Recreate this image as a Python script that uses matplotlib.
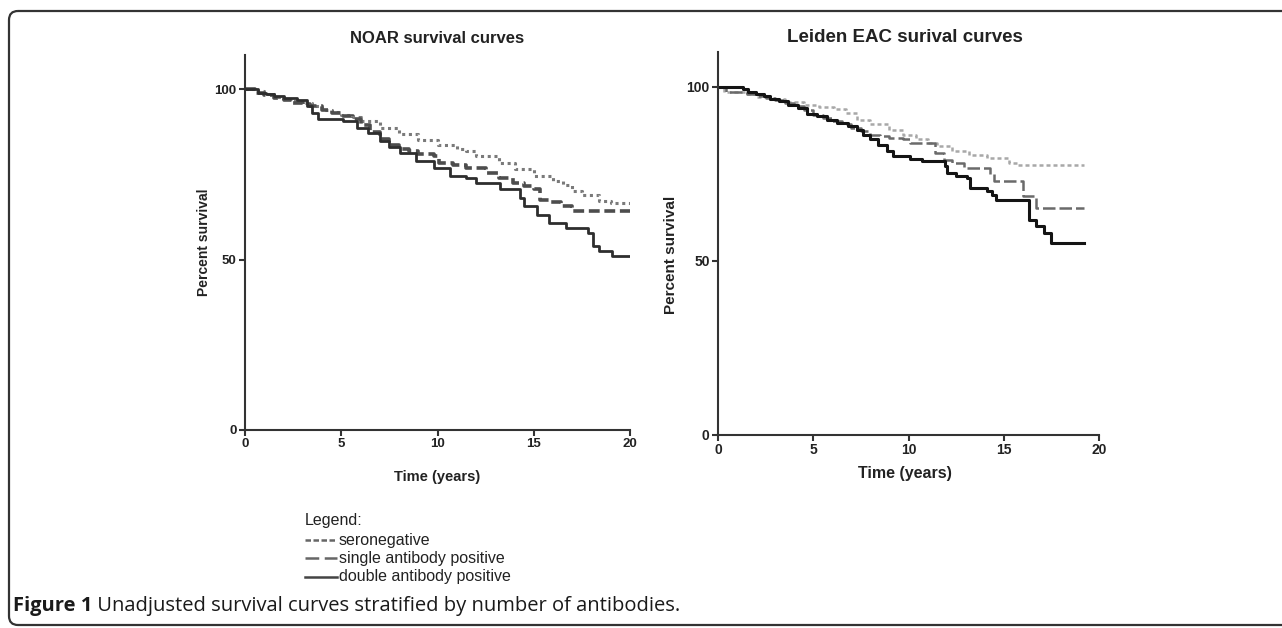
import numpy as np
import matplotlib
matplotlib.use("Agg")
import matplotlib.pyplot as plt
from matplotlib.patches import FancyBboxPatch

plt.rcParams['font.family'] = ['Liberation Sans', 'DejaVu Sans']

# NOAR panel (years, percent survival)
noar_sero_t = [0, 0.5, 1, 1.5, 2, 2.5, 3, 3.5, 4, 4.5, 5, 5.6, 6, 7, 8, 9, 10, 11, 11.5, 12,
               13.2, 14, 15, 16, 16.5, 17, 17.5, 18.4, 19, 20]
noar_sero_s = [100, 99.3, 98.5, 97.8, 97.2, 96.5, 95.8, 95, 94, 93.2, 92.5, 91.7, 90.5, 88.5, 86.8,
               85, 83.5, 82.5, 81.9, 80.5, 78.4, 76.5, 74.5, 73, 72, 70.1, 69, 67.2, 66.5, 65.7]
noar_single_t = [0, 0.5, 1, 1.5, 2, 2.5, 3, 3.4, 4, 4.5, 5, 5.6, 6, 6.5, 7, 7.5, 8, 8.5, 9, 9.8,
                 10.1, 10.8, 11.5, 12.5, 13.2, 13.9, 14.5, 15, 15.3, 15.8, 16.4, 17, 20]
noar_single_s = [100, 99, 98.3, 97.5, 96.8, 96, 95.5, 95, 94, 93, 92.2, 91.2, 89.5, 87.5, 85.3, 83.5,
                 82.4, 81.8, 81, 80.4, 78.4, 77.8, 77, 75.5, 74, 72.5, 71.5, 70.6, 67.6, 66.8, 65.7,
                 64.2, 64.2]
noar_double_t = [0, 0.7, 1.1, 1.5, 2.0, 2.7, 3.2, 3.5, 3.8, 5.1, 5.8, 6.4, 7.0, 7.5, 8.05, 8.9, 9.8,
                 10.65, 11.5, 12.0, 13.25, 14.3, 14.5, 15.15, 15.8, 16.7, 17.8, 18.1, 18.4, 19.05, 20]
noar_double_s = [100, 99, 98.5, 98, 97.5, 96.8, 95, 93, 91.2, 90.7, 88.7, 87, 84.8, 83, 81.4, 78.9,
                 77, 74.5, 74, 72.5, 70.6, 68.1, 65.7, 63.2, 60.8, 59.3, 57.8, 53.9, 52.5, 51, 51]

# Leiden EAC panel
eac_sero_t = [0, 0.3, 1.5, 2.0, 2.7, 3.5, 4.5, 5.3, 6.1, 6.7, 7.3, 8.0, 9.0, 9.7, 10.4, 11.0, 11.5,
              12.3, 13.2, 14.1, 15.3, 15.7, 19.2]
eac_sero_s = [100, 98.5, 97.8, 97.2, 96.5, 95.6, 94.9, 94.2, 93.5, 92.4, 90.6, 89.3, 87.5, 86.3,
              84.9, 83.8, 82.9, 81.7, 80.5, 79.6, 78.1, 77.5, 77.5]
eac_single_t = [0, 0.4, 1.5, 2.0, 2.5, 3.0, 3.5, 4.0, 4.5, 5.0, 5.5, 6.0, 6.5, 7.0, 7.5, 8.0, 8.5,
                9.0, 9.7, 10.1, 11.4, 11.84, 12.3, 12.9, 14.3, 14.5, 16.0, 16.7, 19.2]
eac_single_s = [100, 98.5, 98.0, 97.5, 96.9, 96.1, 95.3, 94.4, 93.2, 92.0, 91.0, 90.2, 89.3, 88.2,
                87.3, 86.3, 85.8, 85.3, 84.9, 83.8, 81.0, 79.1, 78.0, 76.7, 75.0, 72.9, 68.6, 65.2,
                65.2]
eac_double_t = [0, 1.3, 1.6, 2.0, 2.4, 2.74, 3.2, 3.7, 4.2, 4.67, 5.2, 5.7, 6.24, 6.8, 7.29, 7.6,
                7.99, 8.4, 8.86, 9.21, 10.09, 10.7, 11.9, 12.0, 12.5, 13.05, 13.24, 14.1, 14.4, 14.6,
                16.3, 16.7, 17.1, 17.5, 19.2]
eac_double_s = [100, 99.4, 98.6, 97.9, 97.3, 96.6, 95.9, 94.9, 93.9, 92.3, 91.5, 90.6, 89.6, 88.7,
                87.7, 86.3, 84.9, 83.3, 81.5, 80.1, 79.4, 78.6, 77.2, 75.3, 74.5, 73.8, 70.9, 70.0,
                68.8, 67.6, 61.8, 59.9, 58.0, 55.1, 55.1]

legend_labels = ['seronegative', 'single antibody positive', 'double antibody positive']
x_ticks = [0, 5, 10, 15, 20]
y_ticks = [0, 50, 100]

fig = plt.figure(figsize=(12.82, 6.28), dpi=100)

# background axes in pixel units for the frame, legend and caption
bg = fig.add_axes([0, 0, 1, 1])
bg.set_xlim(0, 1282)
bg.set_ylim(628, 0)
bg.axis('off')
frame = FancyBboxPatch((9, 11), 1320, 614, boxstyle="round,pad=0,rounding_size=9",
                       fc='none', ec='#333333', lw=1.6)
bg.add_patch(frame)


def style_axes(ax, fs):
    ax.set_xlim(0, 20)
    ax.set_ylim(0, 110)
    ax.set_xticks(x_ticks)
    ax.set_yticks(y_ticks)
    for s in ['top', 'right']:
        ax.spines[s].set_visible(False)
    for s in ['left', 'bottom']:
        ax.spines[s].set_linewidth(1.5)
        ax.spines[s].set_color('#333333')
    ax.tick_params(direction='out', length=4, width=1.5, color='#333333',
                   labelsize=fs, labelcolor='#222222', pad=2)
    for lab in ax.get_xticklabels() + ax.get_yticklabels():
        lab.set_fontweight('bold')
    ax.patch.set_alpha(0)


ax1 = fig.add_axes([245 / 1282, 1 - 430 / 628, 385 / 1282, 375 / 628])
ax1.step(noar_sero_t, noar_sero_s, where='post', color='#7a7a7a', lw=2.2, dashes=(1.0, 1.2))
ax1.step(noar_single_t, noar_single_s, where='post', color='#4d4d4d', lw=2.6, dashes=(3.0, 1.3))
ax1.step(noar_double_t, noar_double_s, where='post', color='#2e2e2e', lw=2.0)
style_axes(ax1, 9.5)
ax1.text(0.5, 1.043, 'NOAR survival curves', transform=ax1.transAxes, ha='center', va='center',
         fontsize=12, fontweight='bold', color='#222222')
ax1.set_ylabel('Percent survival', fontsize=10, fontweight='bold', color='#222222')
ax1.yaxis.set_label_coords(-0.088, 0.5)
ax1.set_xlabel('Time (years)', fontsize=10.5, fontweight='bold', color='#222222')
ax1.xaxis.set_label_coords(0.5, -0.107)

ax2 = fig.add_axes([718 / 1282, 1 - 435 / 628, 381 / 1282, 383 / 628])
ax2.step(eac_sero_t, eac_sero_s, where='post', color='#a8a8a8', lw=1.8, dashes=(1.6, 1.2))
ax2.step(eac_single_t, eac_single_s, where='post', color='#6a6a6a', lw=1.8, dashes=(5.0, 1.6))
ax2.step(eac_double_t, eac_double_s, where='post', color='#141414', lw=2.2)
style_axes(ax2, 10)
ax2.text(0.49, 1.039, 'Leiden EAC surival curves', transform=ax2.transAxes, ha='center',
         va='center', fontsize=13.5, fontweight='bold', color='#222222')
ax2.set_ylabel('Percent survival', fontsize=11, fontweight='bold', color='#222222')
ax2.yaxis.set_label_coords(-0.105, 0.47)
ax2.set_xlabel('Time (years)', fontsize=11.5, fontweight='bold', color='#222222')
ax2.xaxis.set_label_coords(0.49, -0.081)

# hand-drawn legend under the left panel
bg.text(305, 520, 'Legend:', fontsize=11.5, va='center', ha='left', color='#222222')
leg_styles = [dict(color='#666666', lw=1.8, dashes=(2.2, 1.0)),
              dict(color='#666666', lw=1.8, dashes=(5.5, 2.2)),
              dict(color='#444444', lw=1.8)]
leg_y = [540, 558, 577]
for lab, st, yy in zip(legend_labels, leg_styles, leg_y):
    bg.plot([305, 337], [yy, yy], **st)
    bg.text(339, yy, lab, fontsize=11.5, va='center', ha='left', color='#222222')

cap1 = bg.text(13, 606, 'Figure 1', fontsize=14.5, fontweight='bold', va='center', ha='left',
               family=['Open Sans', 'DejaVu Sans'], color='#1a1a1a')
bg.annotate(' Unadjusted survival curves stratified by number of antibodies.', xy=(1, 0.5),
            xycoords=cap1, va='center', ha='left', fontsize=14.5,
            family=['Open Sans', 'DejaVu Sans'], color='#1a1a1a')

fig.savefig('out.png', dpi=100)
